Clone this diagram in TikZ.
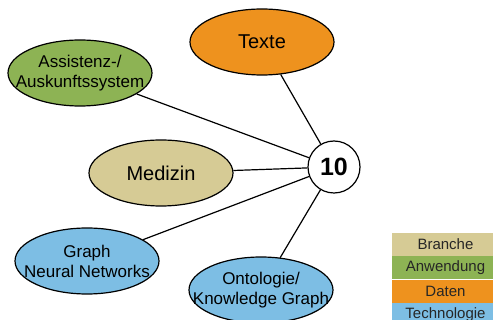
\documentclass[tikz,border=0pt]{standalone}
\usepackage{fontspec}
\setmainfont{Liberation Sans}
\usetikzlibrary{positioning}
\usetikzlibrary{shapes.geometric}

\definecolor{branche}{RGB}{214,203,149}
\definecolor{anwendung}{RGB}{141,179,84}
\definecolor{daten}{RGB}{238,146,30}
\definecolor{technologie}{RGB}{125,190,228}

% zero-width line, so the oval keeps its size
\newcommand{\zl}[1]{\makebox[0pt]{#1}}

\begin{document}
\begin{tikzpicture}[x=1pt, y=-1pt,
                          ovalnode/.style={ellipse, draw, line width=1.2pt, minimum width=144pt, minimum height=66pt, inner sep=0pt, align=center},
                          bignode/.style={ovalnode, font=\fontsize{20}{24}\selectfont},
                          smallnode/.style={ovalnode, font=\fontsize{17}{20}\selectfont},
                          countnode/.style={circle, draw, fill=white, line width=1.2pt, minimum size=52pt, inner sep=0pt, font=\fontsize{25}{30}\selectfont\bfseries},
                          legendnode/.style={rectangle, minimum width=107pt, minimum height=23pt, inner sep=0pt, text=black!85, font=\fontsize{15}{18}\selectfont},
                      ]
                      \clip (0,0) rectangle (493,320);

                      %Nodes
                      \node[countnode]                        (zehn)      at (334,167)  {10};
                      \node[bignode, fill=daten]              (texte)     at (262,42)   {Texte};
                      \node[smallnode, fill=anwendung]        (assist)    at (80,73)    {\zl{Assistenz-/}\\\zl{Auskunftssystem}};
                      \node[bignode, fill=branche]            (medizin)   at (161,173)  {Medizin};
                      \node[smallnode, fill=technologie]      (gnn)       at (87,261)   {\zl{Graph}\\\zl{Neural Networks}};
                      \node[smallnode, fill=technologie]      (onto)      at (261,290)  {\zl{Ontologie/}\\\zl{Knowledge Graph}};

                      %Legend
                      \node[legendnode, fill=branche]         (l_branche)                           at (445.5,244.5) {Branche};
                      \node[legendnode, fill=anwendung]       (l_anwendung)   [below=0pt of l_branche]               {Anwendung};
                      \node[legendnode, fill=daten]           (l_daten)       [below=0pt of l_anwendung]             {Daten};
                      \node[legendnode, fill=technologie]     (l_technologie) [below=0pt of l_daten]                 {Technologie};

                      %Lines
                      \draw[line width=1.2pt] (texte) -- (zehn);
                      \draw[line width=1.2pt] (assist) -- (zehn);
                      \draw[line width=1.2pt] (medizin) -- (zehn);
                      \draw[line width=1.2pt] (gnn) -- (zehn);
                      \draw[line width=1.2pt] (onto) -- (zehn);
                  \end{tikzpicture}
\end{document}
